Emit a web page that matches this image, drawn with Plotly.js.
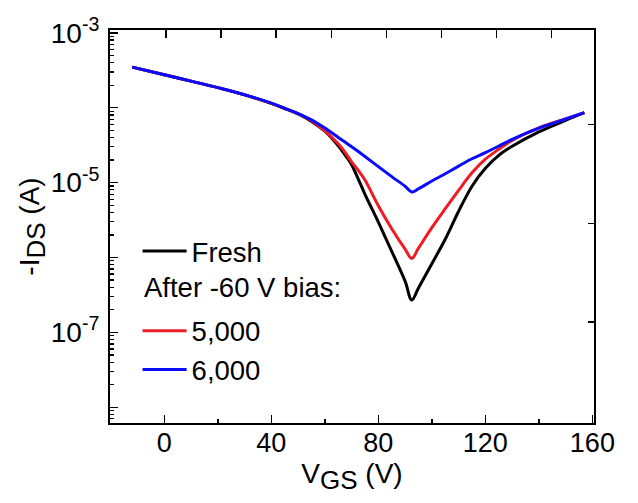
<!DOCTYPE html>
<html>
<head>
<meta charset="utf-8">
<script src="https://cdn.plot.ly/plotly-3.0.1.min.js"></script>
<style>html,body{margin:0;padding:0;background:#fff;}#chart{width:638px;height:503px;}</style>
</head>
<body>
<div id="chart"></div>
<script>
// Gate voltage V_GS (V)
var vgs = [-12, 0, 10, 20, 30, 40, 45, 50, 55, 60, 65, 67.5, 70, 72.5, 75, 80, 85, 90, 92.5, 95, 100, 105, 110, 115, 120, 125, 130, 140, 150, 157];
// -I_DS (A)
var fresh = [3.48e-4, 2.75e-4, 2.26e-4, 1.85e-4, 1.48e-4, 1.14e-4, 9.75e-5, 8.26e-5, 6.56e-5, 4.85e-5, 3.1e-5, 2.35e-5, 1.73e-5, 1.11e-5, 6.98e-6, 2.96e-6, 1.21e-6, 4.83e-7, 2.7e-7, 3.92e-7, 8.26e-7, 1.75e-6, 4.14e-6, 8.93e-6, 1.55e-5, 2.31e-5, 3.05e-5, 4.75e-5, 6.78e-5, 8.58e-5];
var bias5000 = [3.48e-4, 2.75e-4, 2.26e-4, 1.85e-4, 1.48e-4, 1.14e-4, 9.78e-5, 8.3e-5, 6.67e-5, 4.9e-5, 3.29e-5, 2.55e-5, 1.89e-5, 1.45e-5, 1.08e-5, 4.91e-6, 2.42e-6, 1.29e-6, 9.7e-7, 1.33e-6, 2.5e-6, 4.48e-6, 7.89e-6, 1.35e-5, 2.05e-5, 2.78e-5, 3.66e-5, 5.38e-5, 7.1e-5, 8.58e-5];
var bias6000 = [3.48e-4, 2.75e-4, 2.26e-4, 1.85e-4, 1.49e-4, 1.15e-4, 9.8e-5, 8.34e-5, 6.88e-5, 5.35e-5, 4.01e-5, 3.48e-5, 3.01e-5, 2.6e-5, 2.23e-5, 1.63e-5, 1.2e-5, 8.93e-6, 7.5e-6, 8.26e-6, 1.05e-5, 1.31e-5, 1.66e-5, 2.08e-5, 2.51e-5, 3.08e-5, 3.78e-5, 5.33e-5, 7.05e-5, 8.58e-5];
var seriesNames = ['Fresh', '5,000', '6,000'];
var legendNote = 'After -60 V bias:';
var xTicks = [0, 40, 80, 120, 160];
var yTickVals = [1e-8, 1e-7, 1e-6, 1e-5, 1e-4, 1e-3];
var yTickText = ['', '10<sup>-7</sup>', '', '10<sup>-5</sup>', '', '10<sup>-3</sup>'];

var FONT = 'Liberation Sans, Arial, sans-serif';

// minor log ticks (2..9 per decade)
var yMinor = [];
for (var e = -9; e <= -3; e++) {
  for (var m = 2; m <= 9; m++) yMinor.push(m * Math.pow(10, e));
}

function curve(y, name, color, group) {
  return {x: vgs, y: y, name: name, mode: 'lines',
          line: {color: color, width: 3, shape: 'spline', smoothing: 1},
          legendgroup: group};
}
var traces = [
  curve(fresh, seriesNames[0], '#000000', 'a'),
  curve(bias5000, seriesNames[1], '#ee1c25', 'b'),
  curve(bias6000, seriesNames[2], '#0a0aff', 'b'),
  {x: [null], y: [null], xaxis: 'x2', yaxis: 'y2', showlegend: false, hoverinfo: 'skip', mode: 'lines'}
];

var layout = {
  width: 638, height: 503,
  margin: {l: 110, r: 44, t: 29.5, b: 80},
  paper_bgcolor: '#ffffff', plot_bgcolor: '#ffffff',
  font: {family: FONT, color: '#000', size: 27},
  showlegend: true,
  legend: {
    x: 0.057, y: 0.50, xanchor: 'left', yanchor: 'top',
    bgcolor: 'rgba(0,0,0,0)', borderwidth: 0,
    font: {family: FONT, size: 27.5, color: '#000'},
    traceorder: 'grouped', tracegroupgap: 41, itemwidth: 44
  },
  annotations: [{
    text: legendNote, xref: 'paper', yref: 'paper', x: 0.066, y: 0.3456,
    xanchor: 'left', yanchor: 'middle', showarrow: false,
    font: {family: FONT, size: 27.5, color: '#000'}
  }],
  xaxis: {
    range: [-20.3, 160.6], tickvals: xTicks, ticktext: xTicks.map(String),
    ticks: 'inside', ticklen: 8, tickwidth: 1.5, tickcolor: '#000',
    minor: {dtick: 20, tick0: 0, ticks: 'inside', ticklen: 4, tickwidth: 1.5, tickcolor: '#000'},
    showline: true, linewidth: 2, linecolor: '#000', showgrid: false, zeroline: false,
    tickfont: {family: FONT, size: 27},
    ticklabelstandoff: -5,
    title: {text: 'V<sub><span style="font-size:26px">GS</span></sub> (V)', font: {family: FONT, size: 28}, standoff: 6}
  },
  yaxis: {
    type: 'log', range: [-8.21, -2.963],
    tickmode: 'array', tickvals: yTickVals, ticktext: yTickText,
    ticks: 'inside', ticklen: 8, tickwidth: 1.5, tickcolor: '#000',
    minor: {tickmode: 'array', tickvals: yMinor, ticks: 'inside', ticklen: 4, tickwidth: 1.2, tickcolor: '#000'},
    showline: true, linewidth: 2, linecolor: '#000', showgrid: false, zeroline: false,
    tickfont: {family: FONT, size: 28},
    ticklabelstandoff: 3,
    title: {text: '-I<sub><span style="font-size:26px">DS</span></sub> (A)', font: {family: FONT, size: 28}, standoff: 0}
  },
  xaxis2: {
    overlaying: 'x', side: 'top', anchor: 'y2', range: [-1.016, 7.768],
    tickvals: [0, 1, 2, 3, 4, 5, 6, 7], showticklabels: false,
    ticks: 'inside', ticklen: 8, tickwidth: 1.5, tickcolor: '#000',
    showline: true, linewidth: 2, linecolor: '#000', showgrid: false, zeroline: false
  },
  yaxis2: {
    overlaying: 'y', side: 'right', anchor: 'x2', range: [-0.02, 3.955],
    tickvals: [1, 2, 3], showticklabels: false,
    ticks: 'inside', ticklen: 6, tickwidth: 1.5, tickcolor: '#000',
    showline: true, linewidth: 2, linecolor: '#000', showgrid: false, zeroline: false
  }
};

Plotly.newPlot('chart', traces, layout, {staticPlot: true, displayModeBar: false});
</script>
</body>
</html>
